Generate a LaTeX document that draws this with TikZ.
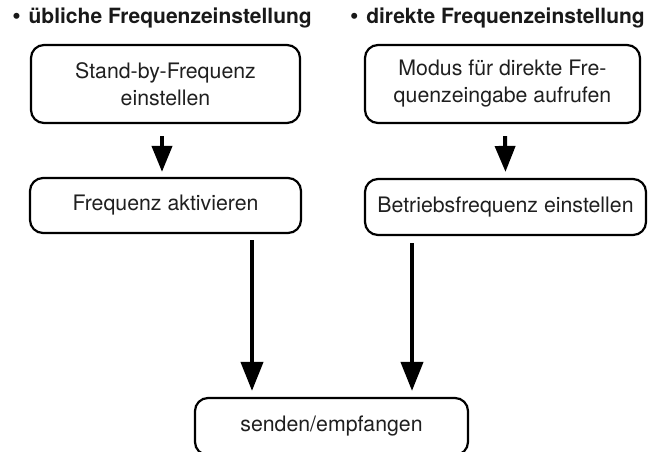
\documentclass[tikz,border=0pt]{standalone}
\usepackage{fontspec}
\setmainfont{TeX Gyre Heros}
\usetikzlibrary{arrows.meta,calc}
\begin{document}
\begin{tikzpicture}[x=1pt,y=1pt,
  box/.style={draw, line width=2.2pt, rounded corners=13pt, inner sep=0pt, align=center, text=black!88, font=\fontsize{21.3}{27}\selectfont},
  head/.style={font=\bfseries\fontsize{21}{25}\selectfont, inner sep=0pt, text=black!90},
  arr/.style={line width=4pt, -{Triangle[width=20pt,length=26pt]}},
  longarr/.style={line width=4pt, -{Triangle[width=22pt,length=29pt]}}]
\clip (0,0) rectangle (649,-451);
\node[head, anchor=base east] (h1) at (312,-23) {{\fontsize{24}{25}\selectfont •}\hspace{2pt} übliche Frequenzeinstellung};
\node[head, anchor=base east] (h2) at (645,-23) {{\fontsize{24}{25}\selectfont •}\hspace{2pt} direkte Frequenzeinstellung};
\node[box, minimum width=269pt, minimum height=78pt] (b1) at (165.5,-84) {Stand-by-Frequenz\\einstellen};
\node[box, minimum width=275pt, minimum height=78pt] (b2) at (502.5,-84) {Modus für direkte Fre-\\quenzeingabe aufrufen};
\node[box, minimum width=271pt, minimum height=55pt] (b3) at (165.5,-205.5) {Frequenz aktivieren};
\node[box, minimum width=281pt, minimum height=56pt] (b4) at (505.5,-207) {Betriebsfrequenz einstellen};
\node[box, minimum width=273pt, minimum height=57pt] (b5) at (331.5,-426.5) {senden/empfangen};
\draw[arr] ($(b1.south)+(-3.5,-12)$) -- ($(b3.north)+(-3.5,5)$);
\draw[arr] ($(b2.south)+(2.5,-12)$) -- ($(b4.north)+(0,6)$);
\coordinate (a1) at ($(b5.north)+(-79.5,0)$);
\coordinate (a2) at ($(b5.north)+(80.5,0)$);
\draw[longarr] ($(b3.south -| a1)+(0,-6)$) -- ($(a1)+(0,6)$);
\draw[longarr] ($(b4.south -| a2)+(0,-7)$) -- ($(a2)+(0,6)$);
\end{tikzpicture}
\end{document}
